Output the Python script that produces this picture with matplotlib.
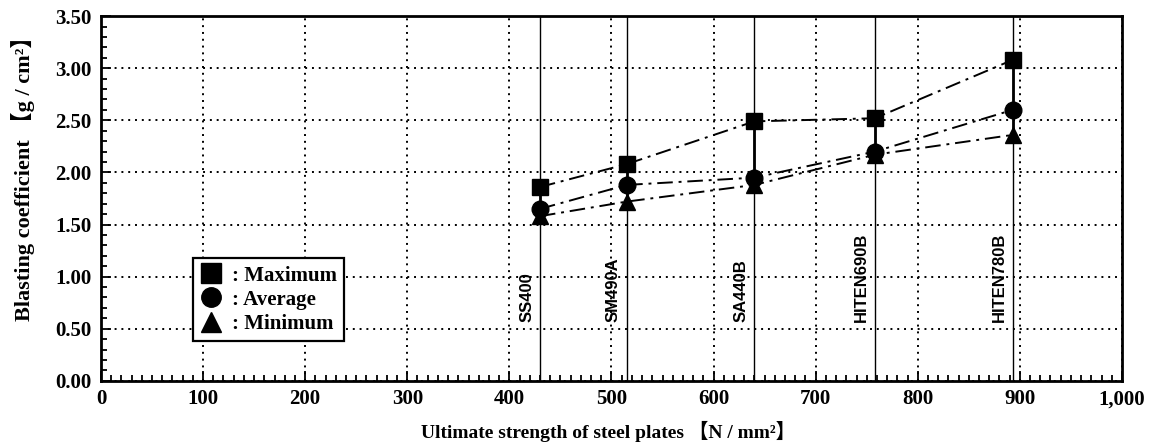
import matplotlib.pyplot as plt
from matplotlib.lines import Line2D
from matplotlib.ticker import MultipleLocator, FuncFormatter

plt.rcParams['font.family'] = ['Liberation Serif', 'Noto Sans CJK JP', 'DejaVu Serif']
plt.rcParams['font.weight'] = 'bold'
plt.rcParams['axes.labelweight'] = 'bold'

steels = ['SS400', 'SM490A', 'SA440B', 'HITEN690B', 'HITEN780B']
strength = [430, 515, 640, 758, 893]
maximum = [1.86, 2.08, 2.49, 2.52, 3.08]
average = [1.65, 1.88, 1.95, 2.20, 2.60]
minimum = [1.58, 1.72, 1.88, 2.17, 2.36]

fig = plt.figure(figsize=(11.55, 4.48), dpi=100)
ax = fig.add_axes([0.0874, 0.150, 0.884, 0.814])

ax.set_xlim(0, 1000)
ax.set_ylim(0, 3.5)

# grid
ax.grid(True, which='major', color='k', linestyle=(0, (1, 2.5)), linewidth=1.4)
ax.set_axisbelow(True)

# steel grade lines
for x, name, lo, hi in zip(strength, steels, minimum, maximum):
    ax.axvline(x, color='k', linewidth=1.0, zorder=2)
    ax.plot([x, x], [lo, hi], color='k', linewidth=2.0, zorder=3)
    ax.text(x - 13, 0.56, name, rotation=90, ha='center', va='bottom',
            fontsize=12, family=['Liberation Sans', 'DejaVu Sans'], fontweight='bold',
            zorder=4)

dashdot = (0, (8, 3, 1.5, 3))
ax.plot(strength, maximum, color='k', linestyle=dashdot, linewidth=1.4,
        marker='s', markersize=12, zorder=5)
ax.plot(strength, average, color='k', linestyle=dashdot, linewidth=1.4,
        marker='o', markersize=12, zorder=5)
ax.plot(strength, minimum, color='k', linestyle=dashdot, linewidth=1.4,
        marker='^', markersize=12, zorder=5)

# axes style
for s in ax.spines.values():
    s.set_linewidth(2.0)
ax.xaxis.set_major_locator(MultipleLocator(100))
ax.xaxis.set_minor_locator(MultipleLocator(10))
ax.yaxis.set_major_locator(MultipleLocator(0.5))
ax.yaxis.set_minor_locator(MultipleLocator(0.1))
ax.xaxis.set_major_formatter(FuncFormatter(lambda v, p: f'{int(v):,}'))
ax.yaxis.set_major_formatter(FuncFormatter(lambda v, p: f'{v:.2f}'))
ax.tick_params(which='both', direction='in', top=False, right=False, width=1.3)
ax.tick_params(which='major', length=7, labelsize=15)
ax.tick_params(axis='x', which='major', pad=6)
ax.tick_params(axis='y', which='major', pad=7)
ax.tick_params(which='minor', length=4)

ax.set_xlabel('Ultimate strength of steel plates 【N / mm²】', fontsize=14)
ax.set_ylabel('Blasting coefficient 【g / cm²】', fontsize=16)
ax.xaxis.set_label_coords(0.497, -0.11)
ax.yaxis.set_label_coords(-0.065, 0.57)

handles = [Line2D([], [], color='k', marker=m, linestyle='none', markersize=14)
           for m in ['s', 'o', '^']]
leg = ax.legend(handles, [': Maximum', ': Average', ': Minimum'],
                loc='lower left', bbox_to_anchor=(0.08, 0.08), fontsize=15,
                frameon=True, fancybox=False, framealpha=1, edgecolor='k',
                handlelength=1.0, handletextpad=0.5, borderpad=0.35, labelspacing=0.2)
leg.get_frame().set_linewidth(1.6)

fig.savefig('out.png', dpi=100)
